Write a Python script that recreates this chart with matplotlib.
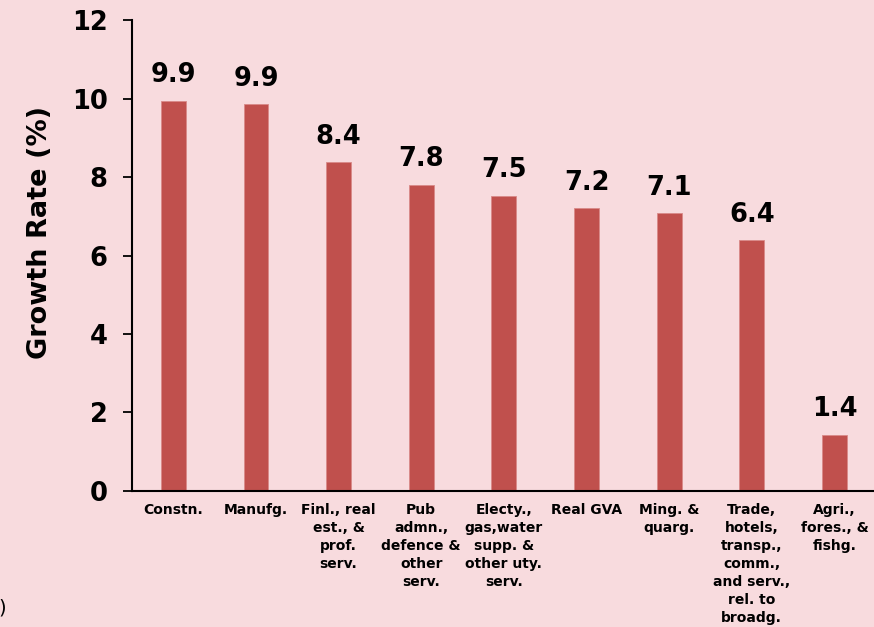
import matplotlib.pyplot as plt

# Sector-wise growth rates
sectors = [
    "Constn.",
    "Manufg.",
    "Finl., real\nest., &\nprof.\nserv.",
    "Pub\nadmn.,\ndefence &\nother\nserv.",
    "Electy.,\ngas,water\nsupp. &\nother uty.\nserv.",
    "Real GVA",
    "Ming. &\nquarg.",
    "Trade,\nhotels,\ntransp.,\ncomm.,\nand serv.,\nrel. to\nbroadg.",
    "Agri.,\nfores., &\nfishg.",
]
growth = [9.94, 9.86, 8.38, 7.80, 7.52, 7.21, 7.08, 6.39, 1.43]
yticks = [0, 2, 4, 6, 8, 10, 12]

bg = "#F8DBDE"
bar_color = "#C0504D"

fig = plt.figure(figsize=(8.74, 6.27), dpi=100)
fig.patch.set_facecolor(bg)
ax = fig.add_axes([0.151, 0.217, 0.851, 0.751])
ax.set_facecolor(bg)

x = range(len(sectors))
bars = ax.bar(x, growth, width=0.3, color=bar_color, edgecolor="#D98A88", linewidth=0.6)

for rect, val in zip(bars, growth):
    ax.annotate(f"{val:.1f}", (rect.get_x() + rect.get_width() / 2, val),
                xytext=(0, 9), textcoords="offset points",
                ha="center", va="bottom", fontsize=18.5, fontweight="bold")

ax.set_xlim(-0.5, len(sectors) - 0.5)
ax.set_ylim(0, 12)
ax.set_yticks(yticks)
ax.set_yticklabels([str(t) for t in yticks], fontsize=18.5, fontweight="bold")
ax.tick_params(axis="y", direction="out", length=6.5, width=1.3, pad=11)

ax.set_xticks(list(x))
ax.set_xticklabels(sectors, fontsize=10, fontweight="bold", linespacing=1.36, va="top")
ax.tick_params(axis="x", length=0, pad=9)

ax.set_ylabel("Growth Rate (%)", fontsize=19.5, fontweight="bold")
ax.yaxis.set_label_coords(-0.106, 0.548)

for side in ["top", "right"]:
    ax.spines[side].set_visible(False)
for side in ["left", "bottom"]:
    ax.spines[side].set_linewidth(1.5)

fig.text(0.003, 0.015, ")", fontsize=14, ha="center", va="bottom")

fig.savefig("out.png", dpi=100, facecolor=bg)
